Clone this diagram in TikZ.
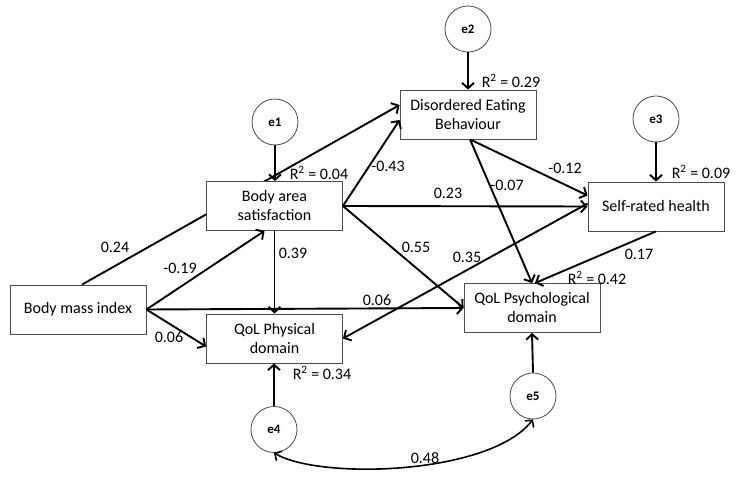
\documentclass[tikz,border=0pt]{standalone}
\usepackage{fontspec}
\setmainfont{Carlito}
\usetikzlibrary{arrows.meta,calc,backgrounds}
\begin{document}
\begin{tikzpicture}[x=1pt,y=-1pt,
  box/.style={draw=black!70,line width=0.8pt,fill=white,minimum width=136pt,minimum height=49pt,align=center,inner sep=2pt,font=\fontsize{16}{19}\selectfont},
  err/.style={circle,draw=black!70,line width=0.8pt,fill=white,minimum size=46pt,inner sep=0pt,font=\fontsize{13}{15}\selectfont\bfseries},
  lab/.style={font=\fontsize{16}{19}\selectfont,inner sep=0pt},
  conn/.style={line width=1.9pt,-{Straight Barb[length=5.5pt,width=12pt]}},
  corr/.style={line width=1.6pt,{Straight Barb[length=5pt,width=11pt]}-{Straight Barb[length=5pt,width=11pt]}}
]
\useasboundingbox (0,0) rectangle (736,481);

% boxes
\node[box] (deb) at (468,114.5) {Disordered Eating\\Behaviour};
\node[box] (body) at (274.5,206) {Body area\\satisfaction};
\node[box] (bmi) at (78,309.5) {Body mass index};
\node[box] (phys) at (274.5,338.5) {QoL Physical\\domain};
\node[box] (psych) at (532,308) {QoL Psychological\\domain};
\node[box] (srh) at (656,206.5) {Self-rated health};

% error terms
\node[err] (e1) at (275,122) {e1};
\node[err] (e2) at (468,29) {e2};
\node[err] (e3) at (656,119) {e3};
\node[err] (e4) at (274,429.5) {e4};
\node[err] (e5) at (533,396) {e5};

% connectors
\begin{scope}[on background layer]
\draw[conn] ($(bmi.north)+(4,0)$) -- ($(deb.west)+(0,-9.5)$);
\end{scope}
\draw[conn] (body.east) -- ($(deb.west)+(0,5.5)$);
\draw[conn] (body.east) -- (srh.west);
\draw[conn] (body.east) -- (psych.west);
\draw[conn] (body.south) -- (phys.north);
\draw[conn] (bmi.east) -- ($(body.south)+(-10,0)$);
\draw[conn] (bmi.east) -- ($(phys.west)+(0,8)$);
\draw[conn] (bmi.east) -- (psych.west);
\draw[conn] ($(deb.south)+(2,0)$) -- ($(srh.west)+(0,-11)$);
\draw[conn] ($(deb.south)+(2,0)$) -- (psych.north);
\draw[conn] ($(srh.west)+(0,-3)$) -- (phys.east);
\draw[conn] (srh.south) -- ($(psych.north)+(3,0)$);

\draw[conn] (e1.south) -- (e1.south |- body.north);
\draw[conn] (e2.south) -- (deb.north);
\draw[conn] (e3.south) -- (srh.north);
\draw[conn] (e4.north) -- (e4.north |- phys.south);
\draw[conn] (e5.north) -- (psych.south);
\draw[corr] (e4.south) .. controls (320,480) and (490,475) .. (e5.south);

% coefficient labels
\node[lab] (l1) at (115,247) {0.24};
\node[lab] (l2) at (180,268) {-0.19};
\node[lab] (l3) at (169,337) {0.06};
\node[lab] (l4) at (293,253) {0.39};
\node[lab] (l5) at (388,166) {-0.43};
\node[lab] (l6) at (448,193) {0.23};
\node[lab] (l7) at (416,247) {0.55};
\node[lab] (l8) at (467,257) {0.35};
\node[lab] (l9) at (377,300) {0.06};
\node[lab] (l10) at (565,168) {-0.12};
\node[lab] (l11) at (507,185) {-0.07};
\node[lab] (l12) at (639,254) {0.17};
\node[lab] (l13) at (425,458) {0.48};

% R squared labels
\node[lab] (r1) at (319,173) {R\textsuperscript{2} = 0.04};
\node[lab] (r2) at (511,81) {R\textsuperscript{2} = 0.29};
\node[lab] (r3) at (701,172) {R\textsuperscript{2} = 0.09};
\node[lab] (r4) at (597,278) {R\textsuperscript{2} = 0.42};
\node[lab] (r5) at (322,373) {R\textsuperscript{2} = 0.34};
\end{tikzpicture}
\end{document}
